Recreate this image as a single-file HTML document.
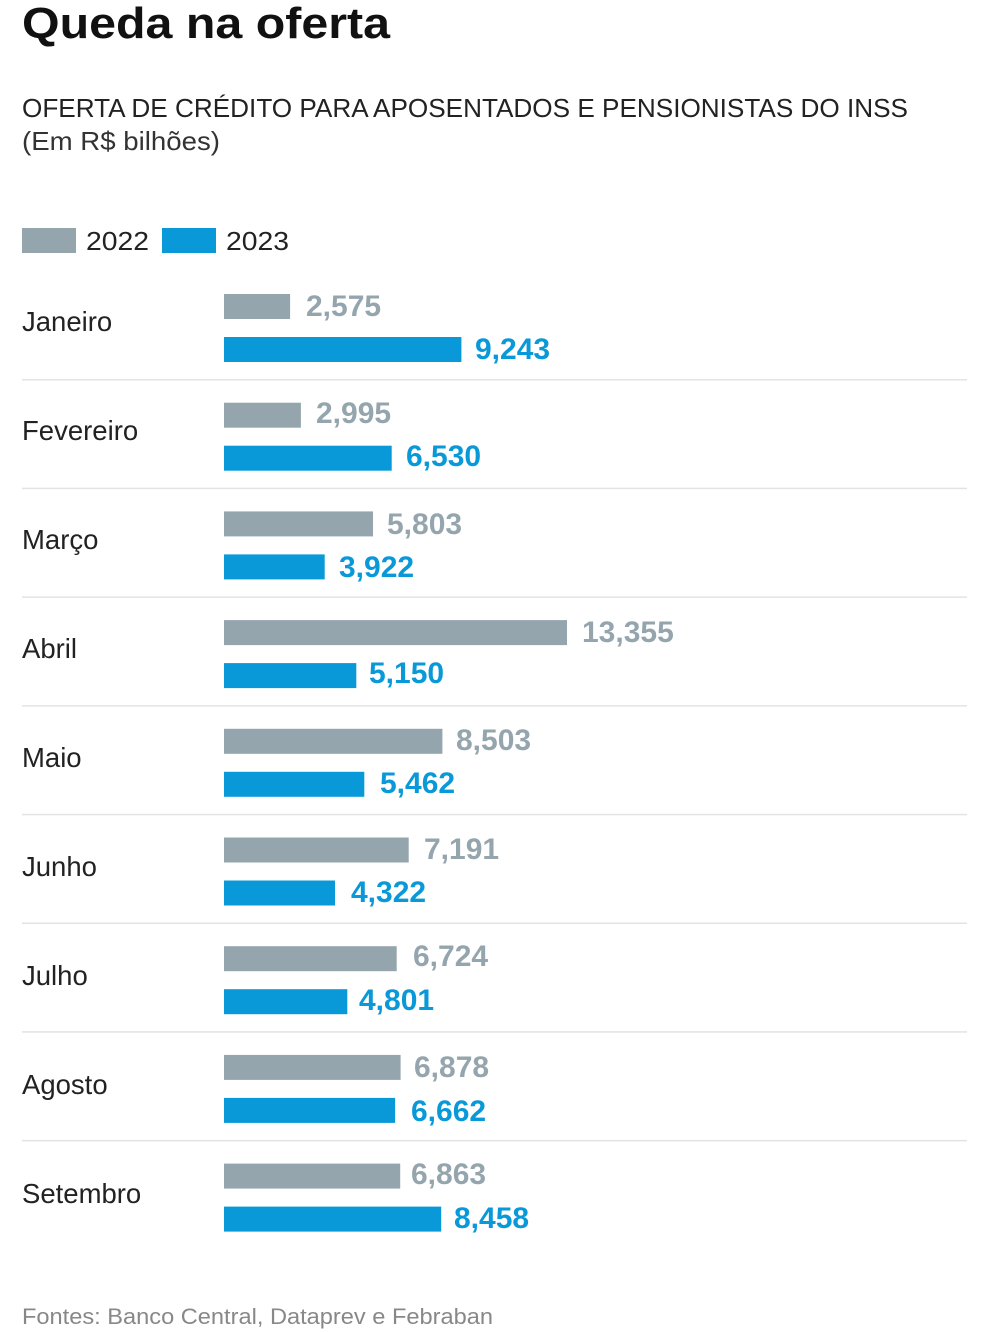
<!DOCTYPE html>
<html><head><meta charset="utf-8"><style>body{margin:0;background:#fff}svg{display:block}.m{font-size:27.5px;fill:#222}.g{font-size:30px;font-weight:bold;fill:#95a5ae}.b{font-size:30px;font-weight:bold;fill:#0a99d8}</style></head>
<body>
<svg width="984" height="1333" xmlns="http://www.w3.org/2000/svg" font-family="'Liberation Sans', sans-serif">
<rect width="984" height="1333" fill="#fff"/>
<text x="22" y="38" font-size="44" font-weight="bold" fill="#111" textLength="368" lengthAdjust="spacingAndGlyphs">Queda na oferta</text>
<text x="22" y="117" font-size="26" fill="#222" textLength="886" lengthAdjust="spacingAndGlyphs">OFERTA DE CRÉDITO PARA APOSENTADOS E PENSIONISTAS DO INSS</text>
<text x="22" y="150" font-size="26" fill="#333" textLength="198" lengthAdjust="spacingAndGlyphs">(Em R$ bilhões)</text>
<rect x="22" y="228" width="54" height="25" fill="#95a5ae"/>
<text x="86" y="250" font-size="26" fill="#222" textLength="63" lengthAdjust="spacingAndGlyphs">2022</text>
<rect x="162" y="228" width="54" height="25" fill="#0a99d8"/>
<text x="226" y="250" font-size="26" fill="#222" textLength="63" lengthAdjust="spacingAndGlyphs">2023</text>

<g fill="#e3e3e3">
<rect x="22" y="379" width="945" height="1.5"/>
<rect x="22" y="487.7" width="945" height="1.5"/>
<rect x="22" y="596.4" width="945" height="1.5"/>
<rect x="22" y="705.1" width="945" height="1.5"/>
<rect x="22" y="813.8" width="945" height="1.5"/>
<rect x="22" y="922.5" width="945" height="1.5"/>
<rect x="22" y="1031.2" width="945" height="1.5"/>
<rect x="22" y="1139.9" width="945" height="1.5"/>
</g>

<text class="m" x="22" y="331">Janeiro</text>
<rect x="224" y="294" width="66.1" height="25" fill="#95a5ae"/>
<text class="g" x="306" y="316">2,575</text>
<rect x="224" y="337" width="237.4" height="25" fill="#0a99d8"/>
<text class="b" x="475" y="359">9,243</text>

<text class="m" x="22" y="440">Fevereiro</text>
<rect x="224" y="402.7" width="76.9" height="25" fill="#95a5ae"/>
<text class="g" x="316" y="423">2,995</text>
<rect x="224" y="445.7" width="167.7" height="25" fill="#0a99d8"/>
<text class="b" x="406" y="466">6,530</text>

<text class="m" x="22" y="549">Março</text>
<rect x="224" y="511.4" width="149" height="25" fill="#95a5ae"/>
<text class="g" x="387" y="534">5,803</text>
<rect x="224" y="554.4" width="100.7" height="25" fill="#0a99d8"/>
<text class="b" x="339" y="577">3,922</text>

<text class="m" x="22" y="658">Abril</text>
<rect x="224" y="620.1" width="343" height="25" fill="#95a5ae"/>
<text class="g" x="582" y="642">13,355</text>
<rect x="224" y="663.1" width="132.3" height="25" fill="#0a99d8"/>
<text class="b" x="369" y="683">5,150</text>

<text class="m" x="22" y="767">Maio</text>
<rect x="224" y="728.8" width="218.4" height="25" fill="#95a5ae"/>
<text class="g" x="456" y="750">8,503</text>
<rect x="224" y="771.8" width="140.3" height="25" fill="#0a99d8"/>
<text class="b" x="380" y="793">5,462</text>

<text class="m" x="22" y="876">Junho</text>
<rect x="224" y="837.5" width="184.7" height="25" fill="#95a5ae"/>
<text class="g" x="424" y="859">7,191</text>
<rect x="224" y="880.5" width="111" height="25" fill="#0a99d8"/>
<text class="b" x="351" y="902">4,322</text>

<text class="m" x="22" y="985">Julho</text>
<rect x="224" y="946.2" width="172.7" height="25" fill="#95a5ae"/>
<text class="g" x="413" y="966">6,724</text>
<rect x="224" y="989.2" width="123.3" height="25" fill="#0a99d8"/>
<text class="b" x="359" y="1010">4,801</text>

<text class="m" x="22" y="1094">Agosto</text>
<rect x="224" y="1054.9" width="176.6" height="25" fill="#95a5ae"/>
<text class="g" x="414" y="1077">6,878</text>
<rect x="224" y="1097.9" width="171.1" height="25" fill="#0a99d8"/>
<text class="b" x="411" y="1121">6,662</text>

<text class="m" x="22" y="1203">Setembro</text>
<rect x="224" y="1163.6" width="176.2" height="25" fill="#95a5ae"/>
<text class="g" x="411" y="1184">6,863</text>
<rect x="224" y="1206.6" width="217.2" height="25" fill="#0a99d8"/>
<text class="b" x="454" y="1228">8,458</text>

<text x="22" y="1324" font-size="22" fill="#888" textLength="471" lengthAdjust="spacingAndGlyphs">Fontes: Banco Central,  Dataprev e Febraban</text>
</svg>
</body></html>
